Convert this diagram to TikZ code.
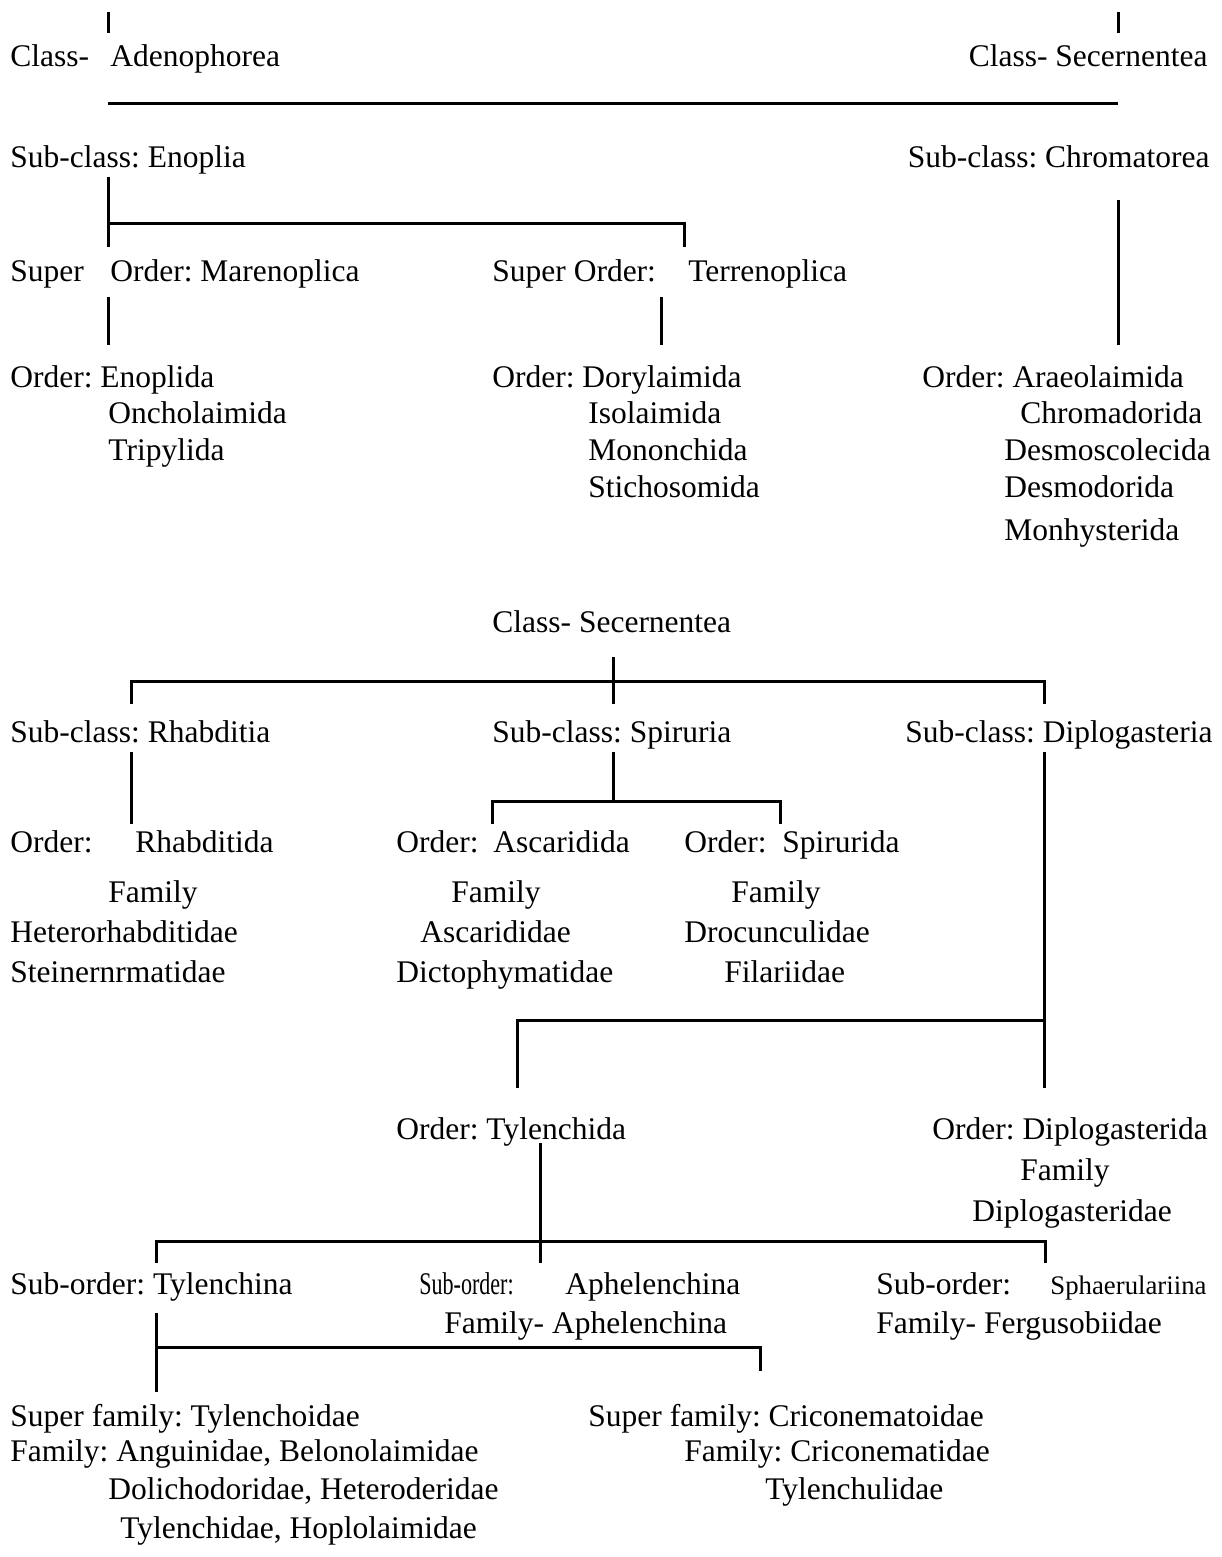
\documentclass[tikz,border=0pt]{standalone}
\usepackage{fontspec}
\setmainfont{Liberation Serif}
\usepackage{graphicx}
\usetikzlibrary{positioning}
\frenchspacing

\begin{document}
\begin{tikzpicture}[x=0.5pt,y=-0.5pt,
		every node/.style={anchor=base west,inner sep=0pt,font=\fontsize{15.75}{18}\selectfont\frenchspacing},
		link/.style={line width=1.5pt}]
		\useasboundingbox (0,0) rectangle (1221,1557);
		% Adenophorea and its orders
		\node (clA) at (10,67) {Class-};
		\node (aden) at (110,67) {Adenophorea};
		\node[anchor=base east] (secT) at (1208,67) {Class- Secernentea};
		\node (enop) at (10,168) {Sub-class: Enoplia};
		\node[anchor=base east] (chro) at (1210,168) {Sub-class: Chromatorea};
		\node (supA) at (10,281) {Super};
		\node (mare) at (110,281) {Order: Marenoplica};
		\node (supB) at (492,281) {Super Order:};
		\node (terr) at (688,281) {Terrenoplica};
		\node (o1) at (10,387) {Order: Enoplida};
		\node (o2) at (108,423) {Oncholaimida};
		\node (o3) at (108,460) {Tripylida};
		\node (o4) at (492,387) {Order: Dorylaimida};
		\node (o5) at (588,423) {Isolaimida};
		\node (o6) at (588,460) {Mononchida};
		\node (o7) at (588,497) {Stichosomida};
		\node (o8) at (922,387) {Order: Araeolaimida};
		\node (o9) at (1020,423) {Chromadorida};
		\node (o10) at (1004,460) {Desmoscolecida};
		\node (o11) at (1004,497) {Desmodorida};
		\node (o12) at (1004,540) {Monhysterida};
		\coordinate (aT) at (108,12);   \coordinate (aB) at (108,33);
		\coordinate (sT) at (1118,12);  \coordinate (sB) at (1118,33);
		\coordinate (barL) at (108,104); \coordinate (barR) at (1118,104);
		\coordinate (enT) at (108,177); \coordinate (enB) at (108,247);
		\coordinate (enJ) at (108,224); \coordinate (enK) at (684,224); \coordinate (enE) at (684,247);
		\coordinate (maT) at (108,297); \coordinate (maB) at (108,345);
		\coordinate (teT) at (661,297); \coordinate (teB) at (661,345);
		\coordinate (chT) at (1118,200); \coordinate (chB) at (1118,345);
		\draw[link] (aT)--(aB);
		\draw[link] (sT)--(sB);
		\draw[link] (barL)--(barR);
		\draw[link] (enT)--(enB);
		\draw[link] (enJ)--(enK)--(enE);
		\draw[link] (maT)--(maB);
		\draw[link] (teT)--(teB);
		\draw[link] (chT)--(chB);
		% Secernentea
		\node (secB) at (492,632) {Class- Secernentea};
		\node (rhab) at (10,742) {Sub-class: Rhabditia};
		\node (spir) at (492,742) {Sub-class: Spiruria};
		\node (dipl) at (905,742) {Sub-class: Diplogasteria};
		\node (r1) at (10,852) {Order:};
		\node (r2) at (135,852) {Rhabditida};
		\node (r3) at (396,852) {Order:};
		\node (r4) at (493,852) {Ascaridida};
		\node (r5) at (684,852) {Order:};
		\node (r6) at (782,852) {Spirurida};
		\node (f1) at (108,902) {Family};
		\node (f2) at (10,942) {Heterorhabditidae};
		\node (f3) at (10,982) {Steinernrmatidae};
		\node (f4) at (451,902) {Family};
		\node (f5) at (420,942) {Ascarididae};
		\node (f6) at (396,982) {Dictophymatidae};
		\node (f7) at (731,902) {Family};
		\node (f8) at (684,942) {Drocunculidae};
		\node (f9) at (724,982) {Filariidae};
		\node (tyl) at (396,1139) {Order: Tylenchida};
		\node (dgo) at (932,1139) {Order: Diplogasterida};
		\node (dg1) at (1020,1180) {Family};
		\node (dg2) at (972,1221) {Diplogasteridae};
		\coordinate (seT) at (613,657); \coordinate (seB) at (613,704);
		\coordinate (seL) at (131,704); \coordinate (seJ) at (131,681);
		\coordinate (seK) at (1044,681); \coordinate (seR) at (1044,704);
		\coordinate (rhT) at (131,752); \coordinate (rhB) at (131,824);
		\coordinate (spT) at (613,752); \coordinate (spB) at (613,801);
		\coordinate (spL) at (492,824); \coordinate (spJ) at (492,801);
		\coordinate (spK) at (780,801); \coordinate (spR) at (780,824);
		\coordinate (diT) at (1044,752); \coordinate (diB) at (1044,1088);
		\coordinate (diJ) at (1044,1020); \coordinate (diK) at (517,1020); \coordinate (diE) at (517,1088);
		\draw[link] (seT)--(seB);
		\draw[link] (seL)--(seJ)--(seK)--(seR);
		\draw[link] (rhT)--(rhB);
		\draw[link] (spT)--(spB);
		\draw[link] (spL)--(spJ)--(spK)--(spR);
		\draw[link] (diT)--(diB);
		\draw[link] (diJ)--(diK)--(diE);
		% Tylenchida
		\node (so1) at (10,1294) {Sub-order: Tylenchina};
		\node (so2) at (419,1294) {\scalebox{0.7}[1]{Sub-order:}};
		\node (so3) at (565,1294) {Aphelenchina};
		\node (so4) at (876,1294) {Sub-order:};
		\node (so5) at (1050,1294) {\scalebox{0.85}{Sphaerulariina}};
		\node (sf1) at (444,1333) {Family- Aphelenchina};
		\node (sf2) at (876,1333) {Family- Fergusobiidae};
		\node (sp1) at (10,1426) {Super family: Tylenchoidae};
		\node (sp2) at (588,1426) {Super family: Criconematoidae};
		\node (fm1) at (10,1461) {Family: Anguinidae, Belonolaimidae};
		\node (fm2) at (108,1499) {Dolichodoridae, Heteroderidae};
		\node (fm3) at (120,1538) {Tylenchidae, Hoplolaimidae};
		\node (fm4) at (684,1461) {Family: Criconematidae};
		\node (fm5) at (765,1499) {Tylenchulidae};
		\coordinate (tyT) at (540,1143); \coordinate (tyB) at (540,1263);
		\coordinate (tyL) at (156,1263); \coordinate (tyJ) at (156,1241);
		\coordinate (tyK) at (1045,1241); \coordinate (tyR) at (1045,1263);
		\coordinate (tcT) at (156,1313); \coordinate (tcB) at (156,1392);
		\coordinate (tcJ) at (156,1347); \coordinate (tcK) at (760,1347); \coordinate (tcR) at (760,1371);
		\draw[link] (tyT)--(tyB);
		\draw[link] (tyL)--(tyJ)--(tyK)--(tyR);
		\draw[link] (tcT)--(tcB);
		\draw[link] (tcJ)--(tcK)--(tcR);
\end{tikzpicture}
\end{document}
